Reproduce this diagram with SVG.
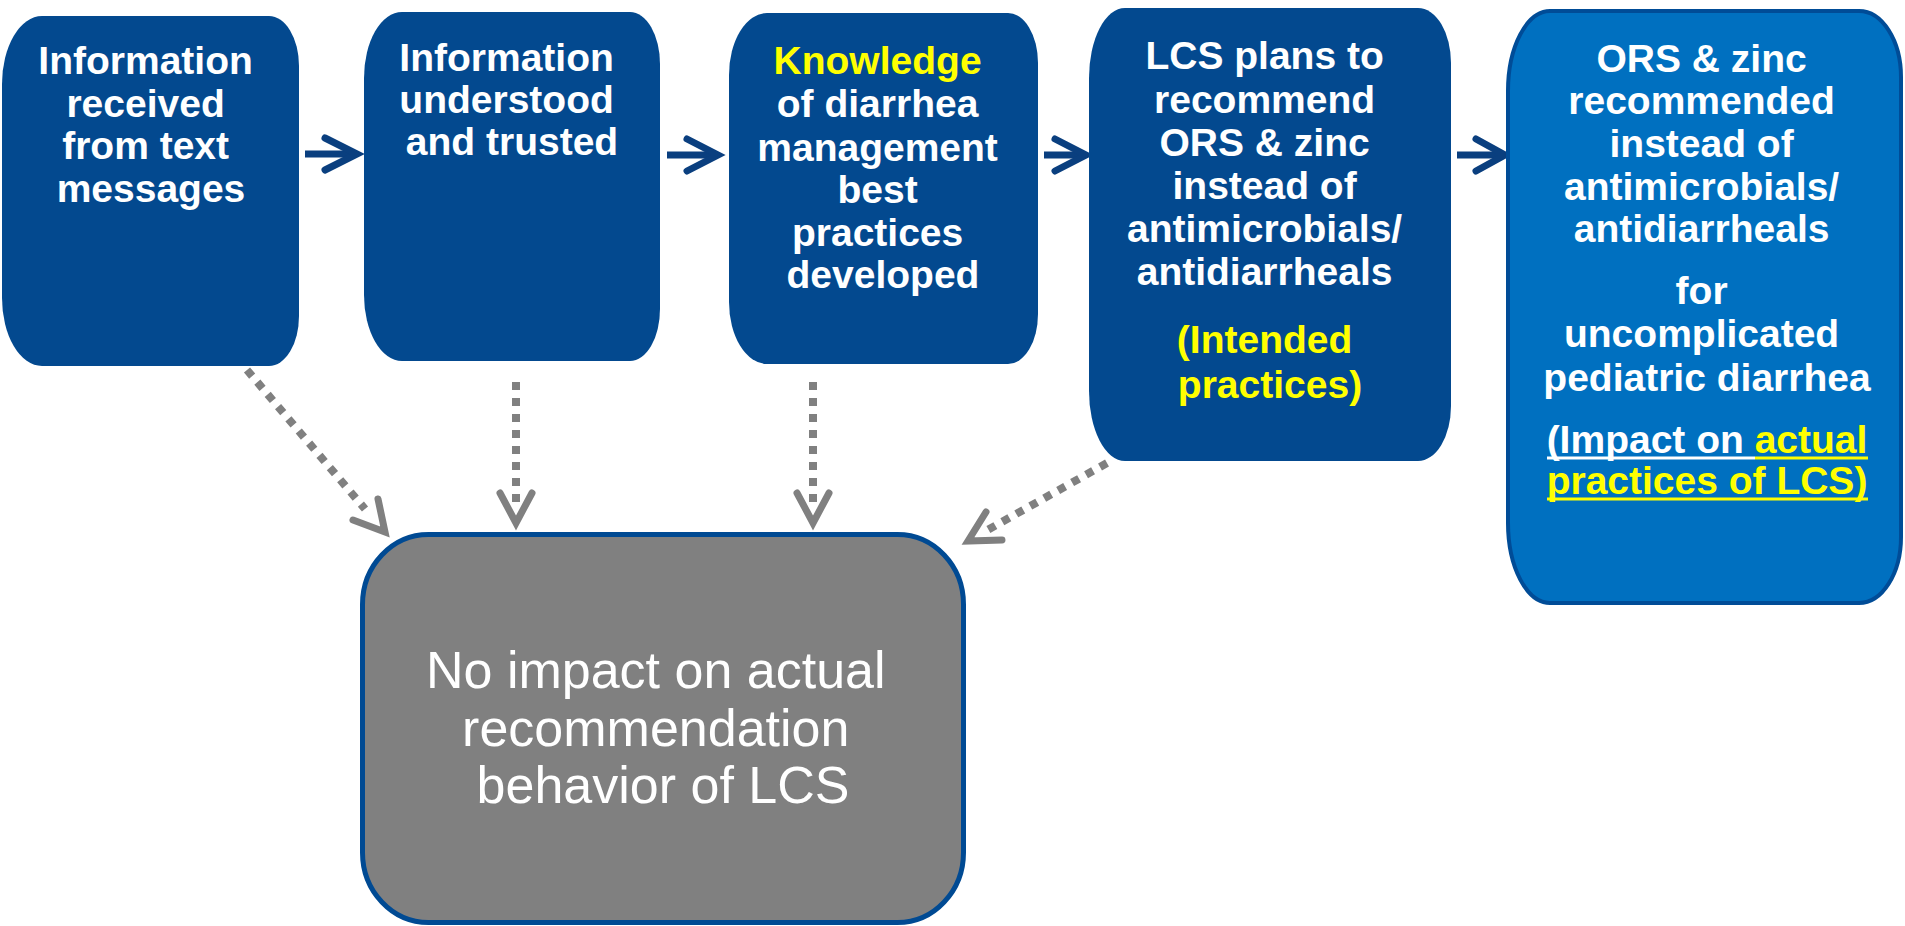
<svg xmlns="http://www.w3.org/2000/svg" width="1905" height="926" viewBox="0 0 1905 926">
  <style>
    .step { fill: #03498F; }
    .outcome { fill: #0070C0; stroke: #004C97; stroke-width: 4; }
    .none { fill: #808080; stroke: #004A93; stroke-width: 5; }
    .lbl { font-family: "Liberation Sans", Arial, sans-serif; font-weight: bold; font-size: 39px; fill: #FFFFFF; text-anchor: middle; }
    .hl { fill: #FFFF00; }
    .rule { stroke-width: 3; }
    .plain { font-family: "Liberation Sans", Arial, sans-serif; font-size: 52px; fill: #FFFFFF; text-anchor: middle; }
    .flow { stroke: #0A3F7F; stroke-width: 7; fill: none; }
    .flowhead { stroke: #0A3F7F; stroke-width: 7; fill: none; stroke-linecap: round; stroke-linejoin: miter; }
    .dash { stroke: #808080; stroke-width: 8; stroke-dasharray: 8 8; fill: none; }
    .dashhead { stroke: #808080; stroke-width: 7; fill: none; stroke-linecap: round; stroke-linejoin: miter; }
  </style>

  <rect width="1905" height="926" fill="#FFFFFF"/>

  <!-- connectors -->
  <g id="connectors">
    <!-- forward chain -->
    <g id="c-1-2">
      <line class="flow" x1="305" y1="154" x2="354" y2="154"/>
      <polyline class="flowhead" points="325,138 357,154 325,170"/>
    </g>
    <g id="c-2-3">
      <line class="flow" x1="667" y1="155" x2="715" y2="155"/>
      <polyline class="flowhead" points="687,139 718,155 687,171"/>
    </g>
    <g id="c-3-4">
      <line class="flow" x1="1044" y1="155" x2="1083" y2="155"/>
      <polyline class="flowhead" points="1055,139 1086,155 1055,171"/>
    </g>
    <g id="c-4-5">
      <line class="flow" x1="1457" y1="155" x2="1502" y2="155"/>
      <polyline class="flowhead" points="1476,139 1505,155 1476,171"/>
    </g>
    <!-- dotted links to the no-impact box -->
    <g id="d-1">
      <line class="dash" x1="247" y1="370" x2="365" y2="509"/>
      <polyline class="dashhead" points="378,499 385,532 353,520"/>
    </g>
    <g id="d-2">
      <line class="dash" x1="516" y1="382" x2="516" y2="502"/>
      <polyline class="dashhead" points="500,493 516,523 532,493"/>
    </g>
    <g id="d-3">
      <line class="dash" x1="813" y1="382" x2="813" y2="502"/>
      <polyline class="dashhead" points="797,493 813,523 829,493"/>
    </g>
    <g id="d-4">
      <line class="dash" x1="1107" y1="463" x2="984" y2="532"/>
      <polyline class="dashhead" points="986,512 968,541 1002,540"/>
    </g>
  </g>

  <!-- step 1 -->
  <g id="n-received">
    <path class="step" d="M42 16 H269 A30 50 0 0 1 299 66 V316 A30 50 0 0 1 269 366 H42 A40 68 0 0 1 2 298 V84 A40 68 0 0 1 42 16 Z"/>
    <text class="lbl">
      <tspan x="151" y="74">Information</tspan>
      <tspan x="151" y="117">received</tspan>
      <tspan x="151" y="159">from text</tspan>
      <tspan x="151" y="202">messages</tspan>
    </text>
  </g>

  <!-- step 2 -->
  <g id="n-understood">
    <path class="step" d="M402 12 H630 A30 52 0 0 1 660 64 V309 A30 52 0 0 1 630 361 H402 A38 66 0 0 1 364 295 V78 A38 66 0 0 1 402 12 Z"/>
    <text class="lbl">
      <tspan x="512" y="71">Information</tspan>
      <tspan x="512" y="113">understood</tspan>
      <tspan x="512" y="155">and trusted</tspan>
    </text>
  </g>

  <!-- step 3 -->
  <g id="n-knowledge">
    <path class="step" d="M767 13 H1008 A30 50 0 0 1 1038 63 V314 A30 50 0 0 1 1008 364 H767 A38 62 0 0 1 729 302 V75 A38 62 0 0 1 767 13 Z"/>
    <text class="lbl">
      <tspan x="883" y="74" class="hl">Knowledge</tspan>
      <tspan x="883" y="117">of diarrhea</tspan>
      <tspan x="883" y="161">management</tspan>
      <tspan x="883" y="203">best</tspan>
      <tspan x="883" y="246">practices</tspan>
      <tspan x="883" y="288">developed</tspan>
    </text>
  </g>

  <!-- step 4 -->
  <g id="n-intended">
    <path class="step" d="M1125 8 H1418 A33 55 0 0 1 1451 63 V406 A33 55 0 0 1 1418 461 H1125 A36 70 0 0 1 1089 391 V78 A36 70 0 0 1 1125 8 Z"/>
    <text class="lbl">
      <tspan x="1270" y="69">LCS plans to</tspan>
      <tspan x="1270" y="113">recommend</tspan>
      <tspan x="1270" y="156">ORS &amp; zinc</tspan>
      <tspan x="1270" y="199">instead of</tspan>
      <tspan x="1270" y="242">antimicrobials/</tspan>
      <tspan x="1270" y="285">antidiarrheals</tspan>
      <tspan x="1270" y="353" class="hl">(Intended</tspan>
      <tspan x="1270" y="398" class="hl">practices)</tspan>
    </text>
  </g>

  <!-- step 5: actual practice -->
  <g id="n-actual">
    <path class="outcome" d="M1550 11 H1859 A42 66 0 0 1 1901 77 V537 A42 66 0 0 1 1859 603 H1550 A42 80 0 0 1 1508 523 V91 A42 80 0 0 1 1550 11 Z"/>
    <text class="lbl">
      <tspan x="1707" y="72">ORS &amp; zinc</tspan>
      <tspan x="1707" y="114">recommended</tspan>
      <tspan x="1707" y="157">instead of</tspan>
      <tspan x="1707" y="200">antimicrobials/</tspan>
      <tspan x="1707" y="242">antidiarrheals</tspan>
      <tspan x="1707" y="304">for</tspan>
      <tspan x="1707" y="347">uncomplicated</tspan>
      <tspan x="1707" y="391">pediatric diarrhea</tspan>
    </text>
    <text class="lbl" x="1707" y="453">(Impact on <tspan class="hl">actual</tspan></text>
    <text class="lbl hl" x="1707" y="494">practices of LCS)</text>
    <!-- underlines -->
    <line class="rule" x1="1547" y1="458" x2="1755" y2="458" stroke="#FFFFFF"/>
    <line class="rule" x1="1755" y1="458" x2="1868" y2="458" stroke="#FFFF00"/>
    <line class="rule" x1="1547" y1="499" x2="1868" y2="499" stroke="#FFFF00"/>
  </g>

  <!-- no-impact outcome -->
  <g id="n-noimpact">
    <rect class="none" x="362.5" y="534.5" width="601" height="388" rx="66" ry="70"/>
    <text class="plain">
      <tspan x="663" y="688">No impact on actual</tspan>
      <tspan x="663" y="746">recommendation</tspan>
      <tspan x="663" y="803">behavior of LCS</tspan>
    </text>
  </g>
</svg>
